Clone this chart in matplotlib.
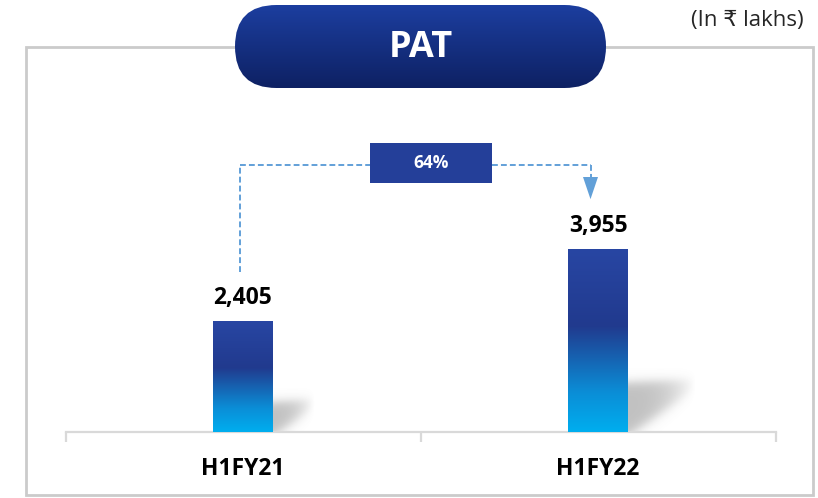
import numpy as np
import matplotlib
matplotlib.use("Agg")
import matplotlib.pyplot as plt
from matplotlib.colors import LinearSegmentedColormap
from matplotlib.patches import FancyBboxPatch, Rectangle, Polygon

# ---- data ----
categories = ["H1FY21", "H1FY22"]
values = [2405, 3955]
title = "PAT"
unit_label = "(In \u20b9 lakhs)"

plt.rcParams['font.family'] = ['Open Sans', 'DejaVu Sans']

W, H = 818, 498
fig = plt.figure(figsize=(W / 100, H / 100), dpi=100)

# ---- background / decoration axes in pixel coords ----
bg = fig.add_axes([0, 0, 1, 1], zorder=0)
bg.axis('off')
bg.add_patch(Rectangle((26, 47), 787, 448, fill=False, ec='#cbcbcb', lw=2))

pill = FancyBboxPatch((235, 5), 371, 83, boxstyle="round,pad=0,rounding_size=41.5",
                      fc='none', ec='none', zorder=3)
bg.add_patch(pill)
pcmap = LinearSegmentedColormap.from_list('pill', ['#1c3e9f', '#0e2163'])
pim = bg.imshow(np.linspace(0, 1, 100).reshape(-1, 1), extent=[235, 606, 88, 5],
                origin='upper', aspect='auto', cmap=pcmap, zorder=3)
pim.set_clip_path(pill)
bg.text(420.5, 48, title, color='white', fontsize=26, fontweight='bold',
        ha='center', va='center', zorder=4)
bg.text(804, 20, unit_label, ha='right', va='center', fontsize=16, color='#262626')
bg.set_xlim(0, W)
bg.set_ylim(H, 0)

# ---- data axes ----
x_left_px, x_right_px = 65.5, 775.5
base_px, top_px = 432, 60
ymax = 8060
ax = fig.add_axes([x_left_px / W, (H - base_px) / H, (x_right_px - x_left_px) / W,
                   (base_px - top_px) / H], zorder=2)
ax.patch.set_alpha(0)
sx = (x_right_px - x_left_px) / 2.0      # px per x unit
sy = (base_px - top_px) / ymax           # px per y unit

xpos = np.arange(len(categories))
bw = 60 / sx
bars = ax.bar(xpos, values, width=bw, color='none', edgecolor='none', zorder=3)

bcmap = LinearSegmentedColormap.from_list(
    'bar', [(0, '#00aeef'), (0.22, '#0b8dd6'), (0.58, '#213a8e'), (1, '#2846a3')])
grad = np.linspace(0, 1, 256).reshape(-1, 1)


def sig(z):
    return 1 / (1 + np.exp(-z))


for x, v, p in zip(xpos, values, bars):
    x0, x1 = x - bw / 2, x + bw / 2
    im = ax.imshow(grad, extent=[x0, x1, 0, v], origin='lower', aspect='auto',
                   cmap=bcmap, zorder=3)
    im.set_clip_path(p)
    # soft shadow to the right of the bar
    h = v * sy
    L, hs = 0.37 * h, 0.27 * h
    dx = np.linspace(-4, L + 14, 150)
    dy = np.linspace(0, hs + 14, 100)
    DX, DY = np.meshgrid(dx, dy)
    t = np.clip(DX / L, 0, None)
    lower = t * hs * 0.95 - 4
    upper = hs + t * 3
    a = (0.42 * np.clip(1 - t ** 2.5, 0, 1) * sig((upper - DY) / 3.0)
         * sig((DY - lower) / 4.0))
    rgba = np.zeros((len(dy), len(dx), 4))
    rgba[..., :3] = 0.42
    rgba[..., 3] = a
    ax.imshow(rgba, extent=[x1 + dx[0] / sx, x1 + dx[-1] / sx, 0, dy[-1] / sy],
              origin='lower', aspect='auto', zorder=2.4, interpolation='bilinear')
    ax.annotate(f"{v:,}", xy=(x, v), xytext=(0, 12.5), textcoords='offset points',
                ha='center', va='baseline', fontsize=16.5, fontweight='bold', color='black')

# growth connector
growth = (values[1] - values[0]) / values[0] * 100
line_c = '#62a0d8'
xl = xpos[0] - 3 / sx
xr = xpos[1] - 7.5 / sx
yh = max(values) + 1830
y_left_end = values[0] + 1060
y_arrow_start = values[1] + 1570
y_tip = values[1] + 1090
kw = dict(color=line_c, lw=1.4, dashes=(3, 1.6), clip_on=False, zorder=4)
ax.plot([xl, xl], [y_left_end, yh], **kw)
ax.plot([xl, 0.36], [yh, yh], **kw)
ax.plot([0.70, xr], [yh, yh], **kw)
ax.plot([xr, xr], [yh, y_arrow_start], **kw)
hw = 7.5 / sx
ax.add_patch(Polygon([[xr - hw, y_arrow_start], [xr + hw, y_arrow_start], [xr, y_tip]],
                     closed=True, fc=line_c, ec='none', clip_on=False, zorder=4))
bx0, bx1 = (370 - 243) / sx, (492 - 243) / sx
by0, by1 = (432 - 183) / sy, (432 - 143) / sy
ax.add_patch(Rectangle((bx0, by0), bx1 - bx0, by1 - by0, fc='#243f99', ec='none',
                       clip_on=False, zorder=5))
ax.text((bx0 + bx1) / 2, (by0 + by1) / 2, f"{growth:.0f}%", color='white', fontsize=12.5,
        fontweight='bold', ha='center', va='center', zorder=6)

# axes styling
ax.set_xlim(-0.5, 1.5)
ax.set_ylim(0, ymax)
for s in ['top', 'right', 'left']:
    ax.spines[s].set_visible(False)
ax.spines['bottom'].set_color('#d9d9d9')
ax.spines['bottom'].set_linewidth(1.6)
ax.set_yticks([])
ax.set_xticks(xpos, categories)
ax.set_xticks([-0.5, 0.5, 1.5], minor=True)
ax.tick_params(axis='x', which='major', length=0, pad=18, labelsize=16.5)
ax.tick_params(axis='x', which='minor', length=7.2, width=1.6, color='#d9d9d9')
for lab in ax.get_xticklabels():
    lab.set_fontweight('bold')

fig.savefig('out.png', dpi=100)
